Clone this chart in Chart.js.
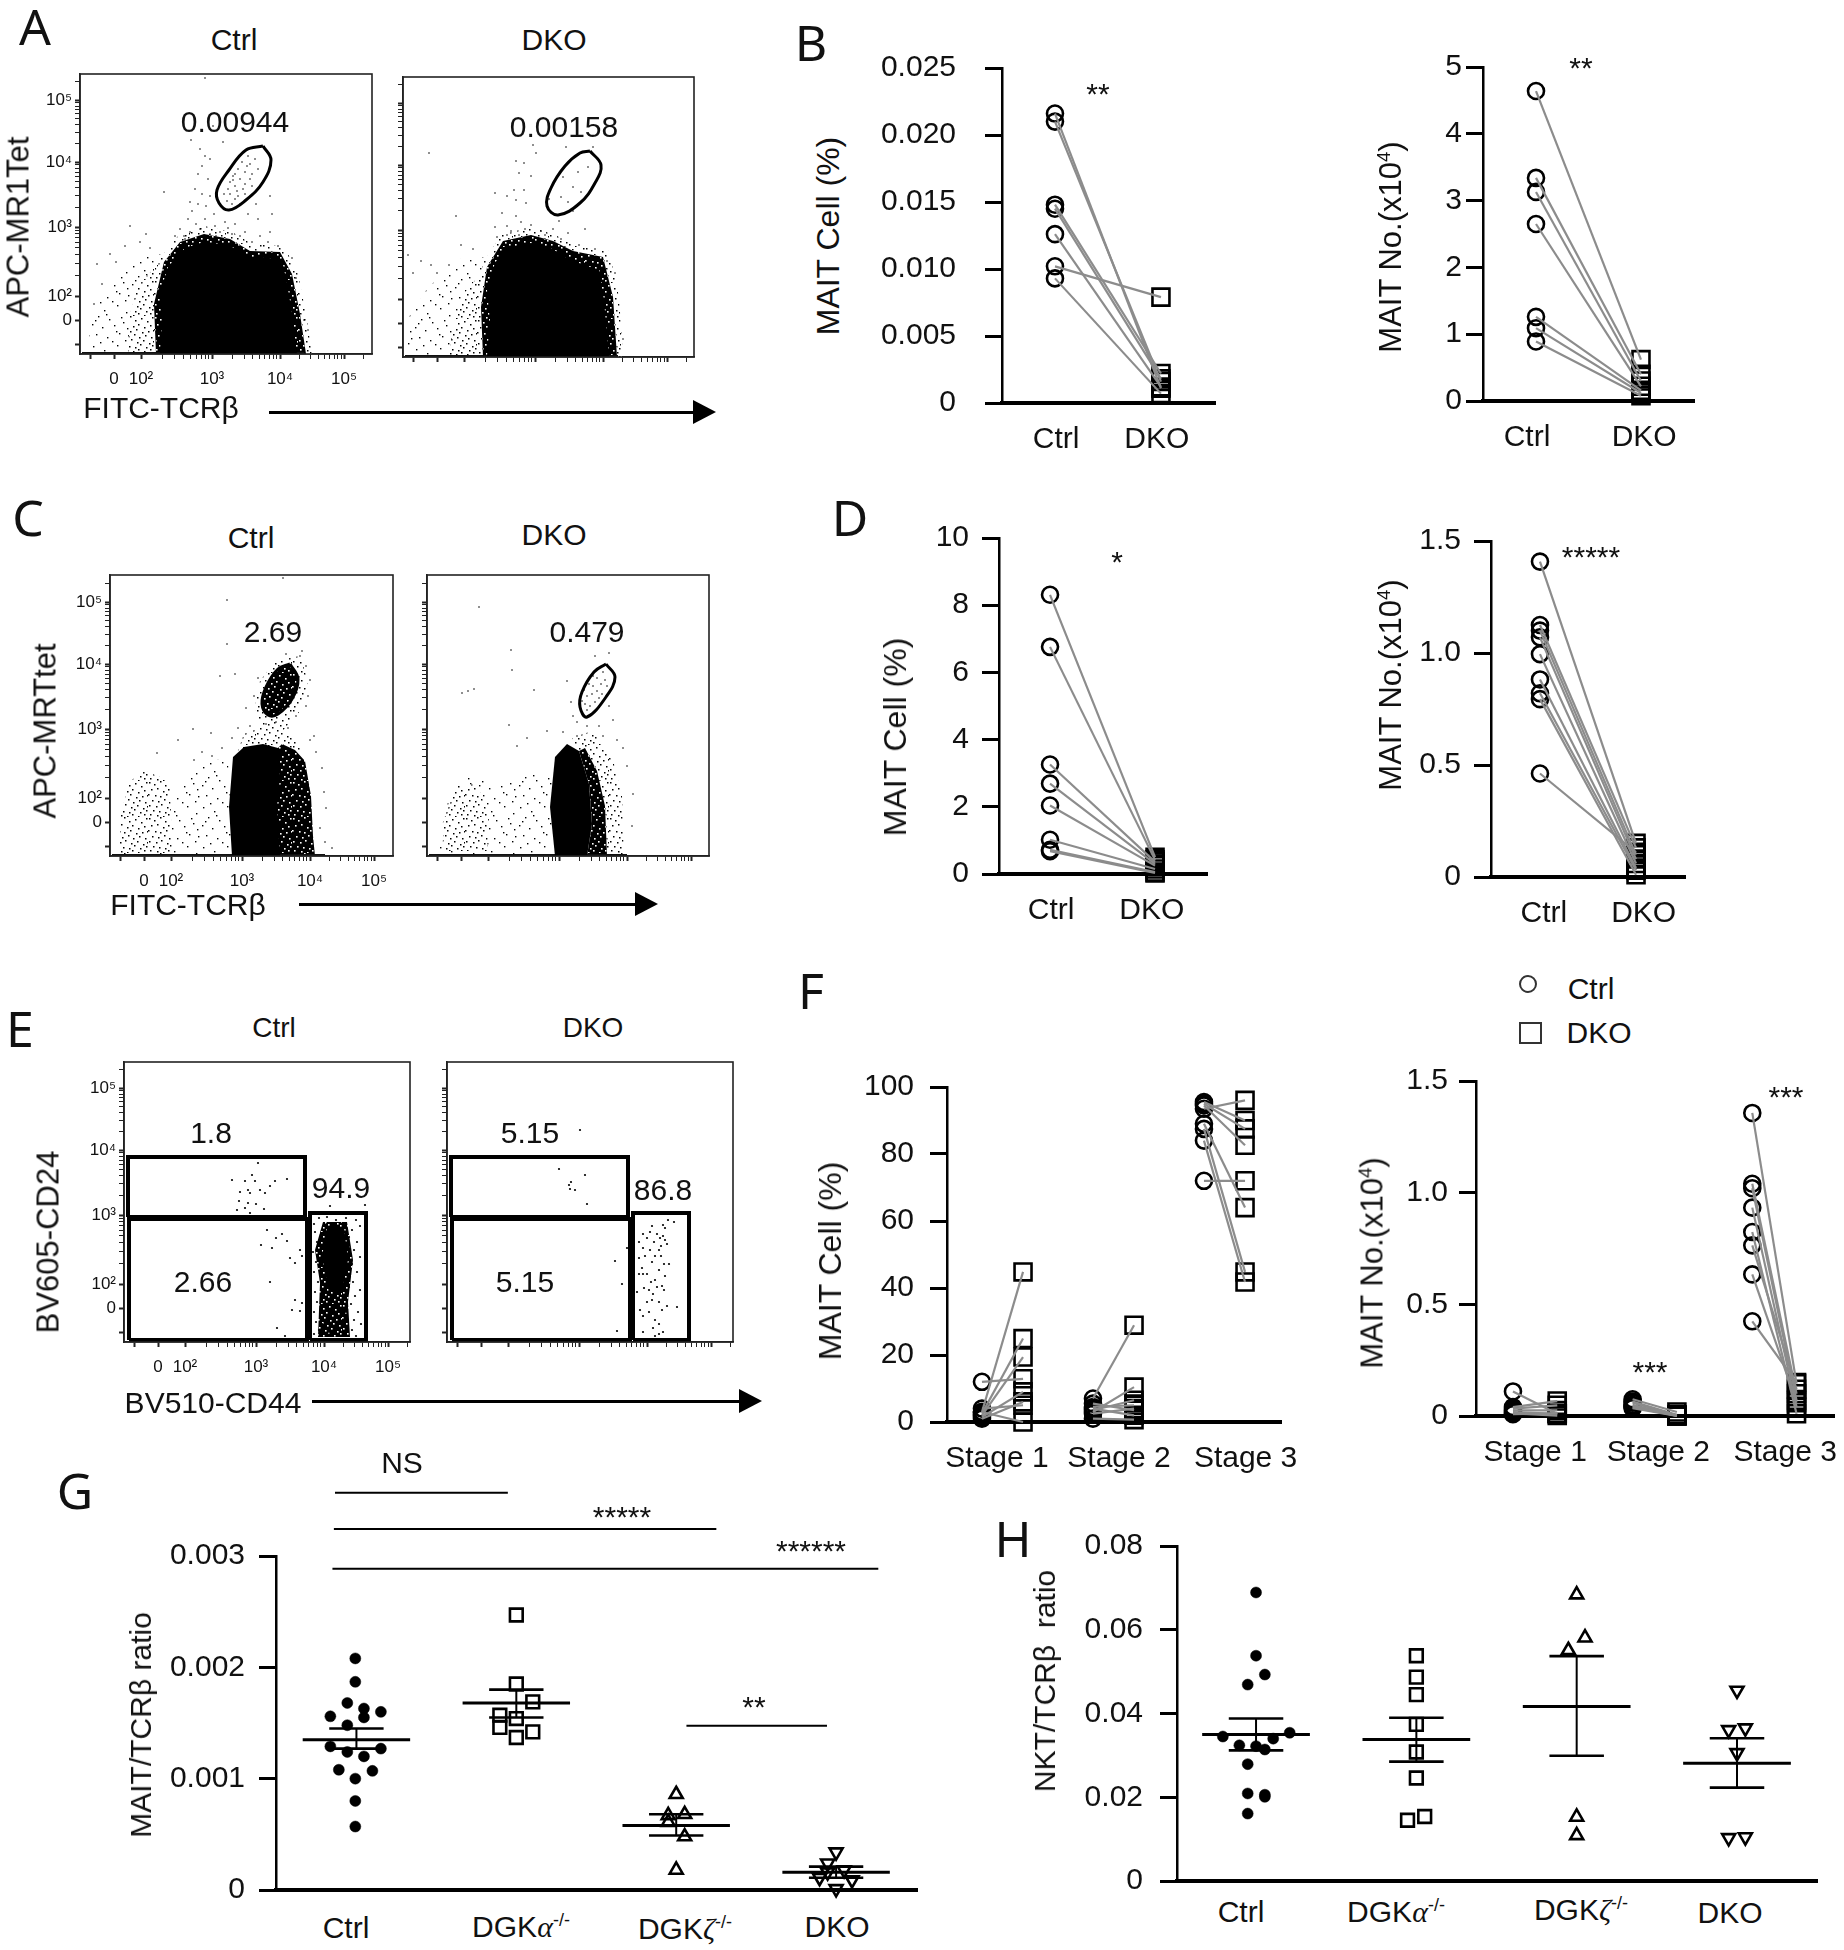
<!DOCTYPE html>
<html>
<head>
<meta charset="utf-8">
<title>MAIT cells</title>
<script src="https://cdn.jsdelivr.net/npm/chart.js@4"></script>
<style>
html, body { margin: 0; padding: 0; background: #fff; }
#page { position: relative; width: 1844px; height: 1950px; overflow: hidden; color: #111; }
canvas { position: absolute; }
.lab { position: absolute; white-space: nowrap; line-height: 1; font-family: "Liberation Sans", Arial, sans-serif; }
.lab sup { font-size: .6em; line-height: 0; vertical-align: baseline; position: relative; top: -.6em; }
.shaft { position: absolute; background: #000; height: 3px; }
.head { position: absolute; width: 0; height: 0; border-top: 12px solid transparent; border-bottom: 12px solid transparent; border-left: 23px solid #000; }
.glyph { position: absolute; border: 2px solid #333; box-sizing: border-box; }
</style>
</head>
<body>
<div id="page"></div>
<script>
/*jshint esversion: 6 */
// paired plots, values
var pairTickX = [1, 2];
var bPctCtrl = [0.0216, 0.0210, 0.0148, 0.0145, 0.0126, 0.0102, 0.0093];
var bPctDko = [0.0011, 0.0016, 0.0022, 0.0018, 0.0012, 0.0079, 0.0007];
var bPctTicks = [0, 0.005, 0.010, 0.015, 0.020, 0.025];
var bPctLabels = ['0', '0.005', '0.010', '0.015', '0.020', '0.025'];
var bNoCtrl = [4.64, 3.34, 3.13, 2.65, 1.26, 1.09, 0.89];
var bNoDko = [0.62, 0.40, 0.30, 0.22, 0.16, 0.12, 0.08];
var bNoTicks = [0, 1, 2, 3, 4, 5];
var bNoLabels = ['0', '1', '2', '3', '4', '5'];
var dPctCtrl = [8.31, 6.76, 3.26, 2.69, 2.04, 1.02, 0.72, 0.68];
var dPctDko = [0.50, 0.42, 0.36, 0.30, 0.25, 0.15, 0.06, 0.03];
var dPctTicks = [0, 2, 4, 6, 8, 10];
var dPctLabels = ['0', '2', '4', '6', '8', '10'];
var dNoCtrl = [1.408, 1.125, 1.10, 1.07, 0.995, 0.882, 0.82, 0.794, 0.462];
var dNoDko = [0.15, 0.13, 0.10, 0.08, 0.06, 0.04, 0.03, 0.01, 0.11];
var dNoTicks = [0, 0.5, 1.0, 1.5];
var dNoLabels = ['0', '0.5', '1.0', '1.5'];

// panel F, by maturation stage
var stageTickLabels = ['Stage 1', 'Stage 2', 'Stage 3'];
var fPctS1Ctrl = [3, 2.5, 2, 12, 1.5, 1, 4, 3];
var fPctS1Dko = [44.8, 24.9, 19.4, 12.9, 9, 6, 5, 0];
var fPctS2Ctrl = [7, 3, 5.5, 4.5, 4, 3.5, 2.5, 1];
var fPctS2Dko = [28.9, 10.4, 3.5, 5, 2, 6.5, 4, 0.7];
var fPctS3Ctrl = [95.5, 95, 94.5, 93.5, 89, 87.5, 84, 72];
var fPctS3Dko = [90, 87.5, 82.6, 96, 64, 44.8, 41.8, 72];
var fPctTicks = [0, 20, 40, 60, 80, 100];
var fPctLabels = ['0', '20', '40', '60', '80', '100'];
var fNoS1Ctrl = [0.11, 0.04, 0.033, 0.025, 0.018, 0.012, 0.008];
var fNoS1Dko = [0.01, 0.067, 0.048, 0.025, 0.01, 0.002, 0.012];
var fNoS2Ctrl = [0.075, 0.065, 0.06, 0.05, 0.045, 0.04, 0.035];
var fNoS2Dko = [0.018, 0.005, 0.002, 0.0, 0.004, 0.001, 0.0];
var fNoS3Ctrl = [1.357, 1.04, 1.02, 0.933, 0.824, 0.764, 0.634, 0.424];
var fNoS3Dko = [0.145, 0.1, 0.07, 0.04, 0.01, 0.12, 0.06, 0.15];
var fNoTicks = [0, 0.5, 1.0, 1.5];
var fNoLabels = ['0', '0.5', '1.0', '1.5'];

// panel G, ratio per group: x jitter and value
var gCtrlX = [0.993, 0.993, 0.943, 1.047, 1.153, 0.837, 1.047, 0.943, 0.837, 1.153, 0.943, 1.047, 0.89, 1.10, 0.993, 0.993, 0.993];
var gCtrlY = [0.00208, 0.00187, 0.00168, 0.00163, 0.00160, 0.00156, 0.00155, 0.00148, 0.00129, 0.00127, 0.00124, 0.00120, 0.00108, 0.00107, 0.00100, 0.00080, 0.00057];
var gAlphaX = [2, 2, 2.103, 1.897, 2, 1.897, 2.103, 2];
var gAlphaY = [0.00247, 0.00185, 0.00169, 0.00157, 0.00154, 0.00146, 0.00142, 0.00137];
var gZetaX = [3, 3.053, 2.95, 2.95, 3.053, 3];
var gZetaY = [0.00086, 0.00068, 0.00067, 0.00061, 0.00048, 0.00018];
var gDkoX = [4, 3.947, 4.05, 3.947, 3.897, 4.1, 4];
var gDkoY = [0.00034, 0.00024, 0.00018, 0.00016, 0.00011, 0.00009, 0.00001];
var gMean = [0.00135, 0.00168, 0.00058, 0.00016];
var gErrHi = [0.00145, 0.00180, 0.00068, 0.00021];
var gErrLo = [0.00127, 0.00155, 0.00049, 0.00011];
var gTicks = [0, 0.001, 0.002, 0.003];
var gLabels = ['0', '0.001', '0.002', '0.003'];
var gBracketX = [[0.866, 1.947], [0.859, 3.251], [0.85, 4.264], [3.064, 3.943]];
var gBracketY = [0.003567, 0.003242, 0.002886, 0.001476];

// panel H
var hCtrlX = [1, 1, 1.055, 0.948, 1.21, 0.793, 1.107, 0.896, 1, 1.055, 0.948, 0.948, 1.055, 1.055, 0.948];
var hCtrlY = [0.0689, 0.0538, 0.0493, 0.0469, 0.0354, 0.0345, 0.0340, 0.0324, 0.0322, 0.0314, 0.0279, 0.0209, 0.0206, 0.0201, 0.0161];
var hAlphaX = [2, 2, 2, 2, 2, 2, 2.052, 1.945];
var hAlphaY = [0.0538, 0.0487, 0.0445, 0.0374, 0.0308, 0.0246, 0.0154, 0.0145];
var hZetaX = [3, 3.052, 2.948, 3, 3];
var hZetaY = [0.0684, 0.0581, 0.0551, 0.0153, 0.0109];
var hDkoX = [4, 3.948, 4.052, 4, 3.948, 4.052];
var hDkoY = [0.0455, 0.0361, 0.0365, 0.0306, 0.0103, 0.0105];
var hMean = [0.0350, 0.0338, 0.0417, 0.0281];
var hErrHi = [0.0388, 0.0390, 0.0537, 0.0341];
var hErrLo = [0.0312, 0.0285, 0.0299, 0.0223];
var hTicks = [0, 0.02, 0.04, 0.06, 0.08];
var hLabels = ['0', '0.02', '0.04', '0.06', '0.08'];

// flow plots: everything in channels, x from the left of the frame, y from its bottom
var flowXMajor = [34, 61, 132, 200, 264];
var flowYMajor = [34, 58, 127, 192, 254];
var flowTickLabels = ['0', '10\u00b2', '10\u00b3', '10\u2074', '10\u2075'];

var aCtrlBlob = [[80,0],[82,34],[80,61],[88,87],[105,106],[124,112],[149,109],[168,97],[183,97],[202,94],[207,71],[212,41],[217,0]];
var aCtrlFringe = [[76,0],[74,50],[84,92],[100,112],[124,120],[150,115],[170,103],[200,102],[212,80],[220,40],[226,0]];
var aCtrlHalo = [[72,0],[68,50],[80,96],[98,118],[124,128],[152,122],[172,110],[204,108],[218,80],[226,40],[232,0]];
var aCtrlNear = [[48,0],[50,40],[58,68],[76,88],[82,0]];
var aCtrlCloud = [[8,0],[10,35],[22,60],[38,80],[50,90],[62,100],[82,100],[82,0]];
var aCtrlGate = [[183,208],[191,194],[183,172],[166,154],[149,144],[139,151],[137,164],[149,184],[166,204],[183,208]];
var aCtrlDots = [[150,160],[155,168],[160,175],[165,182],[170,190],[172,180],[165,170],[158,158],[152,150],[147,153],[144,160],[150,172],[155,180],[162,192],[168,198],[175,195],[178,185],[172,168],[165,160],[160,150],[155,155],[148,165],[158,185],[163,165],[170,175],[157,163],[153,174],[167,188],
  [120,205],[125,198],[130,195],[122,188],[118,180],[128,175],[115,165],[122,160],[130,158],[110,152],[118,150],[126,148],[134,140],[108,135],[116,130],[125,135],[135,128],[145,132],[155,130],[168,140],[178,135],[190,158],[192,140],[176,150],[100,125],[110,122],[120,125],[130,120],[140,122],[152,120],[165,122],[180,118],[190,122],[105,115],[95,118],[143,212],[111,214],[133,228],[153,178],[112,143],[104,118],[136,118],[148,126],[160,118],[172,112],[188,112],[198,108],[212,96],[216,76],[224,34],[228,24],
  [125,276],[84,162],[50,128],[66,120],[17,90],[30,100],[22,70],[14,50],[36,92],[45,108],[60,112],[70,106]];

var aDkoBlob = [[84,0],[87,37],[84,67],[92,94],[104,109],[128,114],[148,109],[167,97],[196,87],[201,57],[206,0]];
var aDkoFringe = [[80,0],[78,50],[84,90],[100,116],[128,122],[150,116],[170,106],[200,100],[210,60],[214,0]];
var aDkoHalo = [[76,0],[72,50],[80,94],[98,122],[128,130],[152,122],[172,112],[206,106],[216,60],[220,0]];
var aDkoNear = [[46,0],[50,30],[60,62],[78,84],[84,0]];
var aDkoCloud = [[2,0],[6,40],[24,68],[40,84],[60,100],[84,100],[84,0]];
var aDkoGate = [[187,206],[198,192],[192,174],[177,154],[155,142],[144,151],[148,169],[162,191],[177,204],[187,206]];
var aDkoDots = [[160,180],[175,185],[170,170],[158,160],[165,155],[178,165],[185,190],[133,204],[26,204],[113,196],[121,194],[116,184],[128,181],[111,167],[121,167],[92,164],[104,161],[113,157],[123,154],[99,144],[113,141],[53,141],[104,131],[118,135],[128,132],[92,130],[108,126],[122,128],[138,126],[150,128],[165,124],[182,128],[94,120],[104,122],[116,122],[128,120],[142,122],[158,118],[176,112],[192,108],[204,96],[212,84],[5,102],[18,96],[28,92],[10,84],[34,84],[46,92],[58,112],[70,108],[146,158],[156,136],[170,146],[130,212],[163,210],[190,210],[220,18]];

var cCtrlBlob = [[122,0],[119,49],[123,99],[134,109],[153,112],[168,108],[170,79],[167,49],[170,0]];
var cCtrlRight = [[168,0],[164,50],[164,104],[172,112],[185,106],[195,95],[201,60],[203,20],[205,0]];
var cCtrlStem = [[126,100],[134,122],[150,128],[175,125],[194,108],[180,95],[140,95]];
var cCtrlHalo = [[165,195],[190,200],[198,175],[190,145],[170,122],[150,125],[145,150],[150,175]];
var cCtrlLeft = [[10,0],[10,40],[20,75],[35,85],[60,75],[62,0]];
var cCtrlMiddle = [[62,0],[62,60],[90,90],[118,100],[122,0]];
var cCtrlGate = [[180,192],[188,177],[182,157],[168,142],[158,141],[152,152],[156,169],[168,187],[180,192]];
var cCtrlDots = [[173,278],[117,256],[117,212],[110,180],[125,182],[83,127],[68,116],[101,123],[47,103],[190,200],[196,190],[200,176],[198,160],[186,140],[196,150],[176,202],[192,205],[148,178],[144,160],[136,148],[140,130],[128,128],[122,118],[112,108],[102,100],[92,104],[84,96],[200,116],[206,104],[212,88],[214,64],[216,48],[210,28],[215,14],[222,8],[204,120],[156,132],[166,134],[178,128]];

var cDkoBlob = [[128,0],[123,49],[128,99],[140,112],[152,105],[162,72],[165,32],[160,0]];
var cDkoNear = [[160,0],[165,32],[162,72],[152,105],[158,108],[170,85],[178,50],[180,0]];
var cDkoRight = [[160,0],[165,32],[162,72],[152,105],[145,118],[165,125],[185,100],[195,60],[197,0]];
var cDkoLobe = [[15,5],[18,40],[30,70],[50,72],[62,40],[60,5]];
var cDkoLeft = [[10,0],[15,30],[25,70],[45,80],[70,70],[100,80],[125,90],[125,0]];
var cDkoGate = [[179,192],[188,179],[179,159],[160,139],[153,149],[155,164],[167,184],[179,192]];
var cDkoDots = [[170,178],[174,172],[166,170],[178,176],[160,160],[165,162],[170,165],[175,162],[158,152],[163,150],[168,154],[172,158],[166,180],[162,172],[157,166],[176,184],[180,170],[155,155],[160,146],[164,142],[52,249],[84,206],[85,186],[47,167],[41,165],[35,163],[107,166],[144,154],[120,125],[82,131],[90,110],[100,118],[168,200],[182,203],[140,175],[146,140],[182,150],[186,136],[150,134],[160,130],[172,130],[136,124],[150,120],[176,120],[196,108],[190,116],[200,90],[206,62],[205,30]];

var eCtrlCore = [[203,115],[220,115],[224,82],[218,50],[205,50],[198,85]];
var eCtrlBody = [[199,120],[223,120],[229,82],[224,40],[226,5],[194,5],[196,59],[191,92]];
var eGateTop = [[4,125],[181,125],[181,185],[4,185],[4,125]];
var eGateLow = [[5,2],[183,2],[183,123],[5,123],[5,2]];
var eGateRight = [[186,2],[242,2],[242,129],[186,129],[186,2]];
var eCtrlDots = [[134,179],[128,167],[121,161],[108,162],[131,161],[151,161],[163,163],[146,156],[136,152],[124,152],[116,150],[126,149],[141,149],[115,141],[124,139],[132,138],[121,134],[140,133],[113,132],[126,129],[143,112],[152,104],[158,108],[163,101],[137,97],[148,94],[166,84],[176,92],[171,79],[178,86],[146,60],[171,42],[168,32],[178,39],[153,14],[161,6],[176,31],
  [190,118],[195,124],[203,125],[212,122],[222,124],[232,122],[236,116],[228,112],[233,100],[230,92],[236,85],[228,78],[233,70],[229,60],[236,52],[231,46],[227,38],[234,30],[230,22],[237,18],[228,12],[232,6],[191,110],[193,100],[189,90],[192,80],[190,70],[194,60],[191,50],[193,40],[190,30],[192,20],[195,12],[190,8],[225,105],[226,95],[224,68],[225,55],[222,30],[220,18],[200,30],[198,18],[205,10],[212,8],[218,10],[197,42],[199,72],[197,105],[203,118],[206,136],[241,137],[226,129]];

var eDkoDots = [[133,212],[112,173],[138,167],[124,160],[122,157],[123,153],[128,152],[140,138],[168,81],[175,58],[170,11],[180,94],
  [221,122],[227,120],[216,117],[218,114],[205,116],[203,110],[210,108],[196,108],[216,106],[200,104],[213,104],[218,102],[192,100],[207,100],[214,96],[220,98],[196,94],[203,92],[212,92],[198,86],[208,86],[214,86],[192,84],[205,80],[217,78],[195,74],[212,72],[222,78],[218,66],[192,68],[196,68],[200,68],[208,62],[204,60],[210,55],[215,56],[197,54],[202,52],[206,48],[217,52],[190,50],[200,40],[205,42],[212,40],[220,36],[230,35],[193,32],[202,30],[215,32],[196,26],[208,22],[212,18],[206,14],[196,10],[212,8],[216,10],[208,6]];

var FONT = '"Liberation Sans", Arial, sans-serif';
var page = document.getElementById('page');

function pts(pairs) {
    return pairs.map(function(p) { return {x: p[0], y: p[1]}; });
}

function zip(xs, ys) {
    return xs.map(function(x, i) { return {x: x, y: ys[i]}; });
}

// text overlay, x/y is the centre of the text
function label(html, x, y, size, rot, family) {
    var d = document.createElement('div');
    d.className = 'lab';
    d.innerHTML = html;
    d.style.left = x + 'px';
    d.style.top = y + 'px';
    d.style.fontSize = (size || 30) + 'px';
    if (family) d.style.fontFamily = family;
    d.style.transform = 'translate(-50%,-50%)' + (rot ? ' rotate(' + rot + 'deg)' : '');
    page.appendChild(d);
}

function stars(text, x, y) {
    label(text, x, y + 4, 30);
}

function arrow(x0, x1, y) {
    var s = document.createElement('div');
    s.className = 'shaft';
    s.style.left = x0 + 'px';
    s.style.top = (y - 1.5) + 'px';
    s.style.width = (x1 - x0 - 20) + 'px';
    page.appendChild(s);
    var h = document.createElement('div');
    h.className = 'head';
    h.style.left = (x1 - 23) + 'px';
    h.style.top = (y - 12) + 'px';
    page.appendChild(h);
}

// fill textures for the parts of a flow plot too dense to read dot by dot
function stipple(size, specks, back, fore, dot) {
    var c = document.createElement('canvas');
    c.width = size;
    c.height = size;
    var g = c.getContext('2d');
    g.fillStyle = back;
    g.fillRect(0, 0, size, size);
    g.fillStyle = fore;
    specks.forEach(function(d) { g.fillRect(d[0], d[1], dot, dot); });
    return g.createPattern(c, 'repeat');
}

var fewSpecks = [[3,2],[14,6],[27,1],[36,8],[8,12],[19,15],[31,13],[2,20],[12,23],[24,21],[37,24],[6,30],[17,33],[29,29],[35,36],[10,38],[22,37],[33,18],[16,10],[26,27],[5,16],[38,31]];
var manySpecks = [[1,1],[6,3],[12,0],[17,4],[23,2],[29,5],[34,1],[3,8],[9,7],[15,10],[20,8],[26,11],[32,9],[0,13],[7,14],[12,15],[18,13],[24,16],[30,15],[35,14],[4,19],[10,20],[16,18],[21,21],[27,19],[33,21],[1,24],[8,25],[13,23],[19,26],[25,24],[31,27],[5,29],[11,30],[17,31],[22,28],[28,31],[34,29],[2,33],[9,34],[15,35],[20,33],[26,35],[32,33],[35,25]];
var sparseTex = stipple(40, fewSpecks, '#fff', '#000', 1.4);
var midTex = stipple(36, manySpecks, '#fff', '#000', 1.5);
var denseTex = stipple(36, manySpecks, '#000', '#fff', 1.6);

var framePlugin = {
    id: 'frame',
    afterDatasetsDraw: function(chart) {
        var a = chart.chartArea, g = chart.ctx;
        g.save();
        g.strokeStyle = '#222';
        g.lineWidth = 1.6;
        g.strokeRect(a.left, a.top, a.right - a.left, a.bottom - a.top);
        g.restore();
    }
};

// rect = [x0, y0, x1, y1] of the plot area on the page, m = margins round it
function newChart(rect, m, scales, datasets, plugins) {
    var c = document.createElement('canvas');
    c.width = rect[2] - rect[0] + m[0] + m[2];
    c.height = rect[3] - rect[1] + m[1] + m[3];
    c.style.left = (rect[0] - m[0]) + 'px';
    c.style.top = (rect[1] - m[1]) + 'px';
    page.appendChild(c);
    function noPadding(s) {
        s.paddingTop = s.paddingBottom = s.paddingLeft = s.paddingRight = 0;
    }
    scales.x.afterFit = function(s) { s.height = m[3]; noPadding(s); };
    scales.y.afterFit = function(s) { s.width = m[0]; noPadding(s); };
    return new Chart(c, {
        type: 'scatter',
        data: {datasets: datasets},
        options: {
            responsive: false,
            animation: false,
            events: [],
            devicePixelRatio: 1,
            layout: {autoPadding: false, padding: {top: m[1], right: m[2], left: 0, bottom: 0}},
            plugins: {legend: {display: false}, tooltip: {enabled: false}},
            scales: scales
        },
        plugins: plugins || []
    });
}

function fixedTicks(values, labels) {
    return function(scale) {
        scale.ticks = values.map(function(v, i) { return {value: v, text: labels[i]}; });
    };
}

function tickText(v, i, ts) {
    return ts[i].text;
}

function valueAxis(min, max, values, labels, pad) {
    return {
        type: 'linear', min: min, max: max,
        afterBuildTicks: fixedTicks(values, labels),
        border: {color: '#000', width: 2.5},
        grid: {drawOnChartArea: false, tickLength: 17, tickWidth: 3, tickColor: '#000'},
        ticks: {callback: tickText, autoSkip: false, maxRotation: 0, padding: pad, color: '#111', font: {family: FONT, size: 30}}
    };
}

function catAxis(min, max, values, labels, pad) {
    return {
        type: 'linear', min: min, max: max,
        afterBuildTicks: fixedTicks(values, labels),
        border: {color: '#000', width: 4},
        grid: {display: false, drawTicks: false},
        ticks: {callback: tickText, autoSkip: false, maxRotation: 0, padding: pad, color: '#111', font: {family: FONT, size: 30}}
    };
}

function pairLines(ctrl, dko, xc, xd) {
    return ctrl.map(function(v, i) {
        return {data: [{x: xc, y: v}, {x: xd, y: dko[i]}], showLine: true, borderColor: '#8c8c8c', borderWidth: 2.2, pointRadius: 0, clip: false};
    });
}

function markers(xs, ys, style, r, extra) {
    var d = {
        data: zip(xs, ys), pointStyle: style, pointRadius: r, pointBorderWidth: 2.6,
        pointBorderColor: '#000', pointBackgroundColor: 'rgba(0,0,0,0)', clip: false
    };
    return Object.assign(d, extra || {});
}

function sameX(vals, x) {
    return vals.map(function() { return x; });
}

function pairChart(rect, xMin, xMax, ctrl, dko, yTicks, yLabels, pad, tickX) {
    var sets = pairLines(ctrl, dko, pairTickX[0], pairTickX[1]);
    sets.push(markers(sameX(ctrl, pairTickX[0]), ctrl, 'circle', 8));
    sets.push(markers(sameX(dko, pairTickX[1]), dko, 'rect', 12));
    newChart(rect, [120, 20, 10, 60], {
        x: catAxis(xMin, xMax, tickX, ['Ctrl', 'DKO'], 19),
        y: valueAxis(0, yTicks[yTicks.length - 1], yTicks, yLabels, pad)
    }, sets);
}

function stageChart(rect, xMin, xMax, stages, yTicks, yLabels, pad, tickX, right) {
    var sets = [];
    stages.forEach(function(st, i) {
        sets = sets.concat(pairLines(st[0], st[1], i + 0.815, i + 1.185));
    });
    stages.forEach(function(st, i) {
        sets.push(markers(sameX(st[0], i + 0.815), st[0], 'circle', 8));
        sets.push(markers(sameX(st[1], i + 1.185), st[1], 'rect', 12));
    });
    newChart(rect, [120, 20, right, 60], {
        x: catAxis(xMin, xMax, tickX, stageTickLabels, 19),
        y: valueAxis(0, yTicks[yTicks.length - 1], yTicks, yLabels, pad)
    }, sets);
}

function hLine(x0, x1, y, w) {
    return {data: [{x: x0, y: y}, {x: x1, y: y}], showLine: true, borderColor: '#000', borderWidth: w, pointRadius: 0, clip: false};
}

function scatterChart(rect, xMin, xMax, groups, mean, hi, lo, yTicks, yLabels, pad, extra) {
    var sets = [];
    mean.forEach(function(m, i) {
        var c = i + 1;
        sets.push(hLine(c - 0.336, c + 0.336, m, 3));
        sets.push(hLine(c - 0.17, c + 0.17, hi[i], 2.6));
        sets.push(hLine(c - 0.17, c + 0.17, lo[i], 2.6));
        sets.push({data: [{x: c, y: lo[i]}, {x: c, y: hi[i]}], showLine: true, borderColor: '#000', borderWidth: 2, pointRadius: 0, clip: false});
    });
    sets = sets.concat(extra || []);
    sets.push(markers(groups[0][0], groups[0][1], 'circle', 5.5, {pointBackgroundColor: '#000', pointBorderWidth: 0.5}));
    sets.push(markers(groups[1][0], groups[1][1], 'rect', 9));
    sets.push(markers(groups[2][0], groups[2][1], 'triangle', 7.5));
    sets.push(markers(groups[3][0], groups[3][1], 'triangle', 7.5, {pointRotation: 180}));
    newChart(rect, [120, 100, 10, 10], {
        x: {type: 'linear', min: xMin, max: xMax, border: {color: '#000', width: 4}, grid: {display: false}, ticks: {display: false}},
        y: valueAxis(0, yTicks[yTicks.length - 1], yTicks, yLabels, pad)
    }, sets);
}

// ticks of a logicle style axis: majors with a label, log minors between them
function flowTicks(major, labels) {
    var out = [{value: 10, text: '', major: true}];
    major.forEach(function(p, i) {
        out.push({value: p, text: labels ? labels[i] : '', major: true});
        if (i > 0 && i < major.length) {
            var next = i < major.length - 1 ? major[i + 1] : p + (p - major[i - 1]);
            for (var m = 2; m < 10; m++) {
                out.push({value: p + Math.log10(m) * (next - p), text: '', major: false});
            }
        }
    });
    return out;
}

function flowAxis(max, major, labels, size) {
    return {
        type: 'linear', min: 0, max: max,
        afterBuildTicks: function(s) {
            s.ticks = flowTicks(major, labels).filter(function(t) { return t.value < max; });
        },
        border: {color: '#222', width: 1.6},
        grid: {
            drawOnChartArea: false, tickLength: 5, tickColor: '#222',
            tickWidth: function(c) { return c.tick && c.tick.major ? 2 : 1; }
        },
        ticks: {
            callback: tickText, autoSkip: false, maxRotation: 0, padding: size, color: '#111',
            font: {family: '"Liberation Sans Narrow", "Liberation Sans", sans-serif', size: 17}
        }
    };
}

function region(poly, fill, smooth) {
    return {data: pts(poly), showLine: true, fill: 'shape', backgroundColor: fill, borderWidth: 0, pointRadius: 0, tension: smooth ? 0.4 : 0};
}

function gate(poly, w, smooth) {
    return {data: pts(poly), showLine: true, borderColor: '#000', borderWidth: w, tension: smooth ? 0.4 : 0, pointRadius: 0, clip: false};
}

function dots(list, r) {
    return {data: pts(list), pointStyle: 'circle', pointRadius: r || 0.8, pointBorderWidth: 0, pointBackgroundColor: '#000'};
}

function pile(x1) {
    return {data: [{x: 2, y: 1}, {x: x1, y: 1}], showLine: true, borderColor: '#111', borderWidth: 2, pointRadius: 0};
}

function flowChart(rect, withLabels, sets) {
    var w = rect[2] - rect[0], h = rect[3] - rect[1];
    newChart(rect, [70, 10, 10, 50], {
        x: flowAxis(w, flowXMajor, withLabels ? flowTickLabels : null, 10),
        y: flowAxis(h, flowYMajor, withLabels ? flowTickLabels : null, 3)
    }, sets, [framePlugin]);
}

// panel A
flowChart([80, 74, 372, 354], true, [gate(aCtrlGate, 3, true), dots(aCtrlDots), region(aCtrlBlob, '#000'), pile(224), region(aCtrlFringe, denseTex), region(aCtrlHalo, midTex), region(aCtrlNear, midTex), region(aCtrlCloud, sparseTex)]);
flowChart([403, 77, 694, 357], false, [gate(aDkoGate, 3, true), dots(aDkoDots), region(aDkoBlob, '#000'), pile(215), region(aDkoFringe, denseTex), region(aDkoHalo, midTex), region(aDkoNear, midTex), region(aDkoCloud, sparseTex)]);

// panel C
flowChart([110, 575, 393, 856], true, [gate(cCtrlGate, 3, true), region(cCtrlGate, denseTex, true), dots(cCtrlDots), region(cCtrlBlob, '#000'), pile(215), region(cCtrlRight, denseTex), region(cCtrlStem, midTex), region(cCtrlHalo, midTex), region(cCtrlLeft, midTex), region(cCtrlMiddle, sparseTex)]);
flowChart([427, 575, 709, 856], false, [gate(cDkoGate, 3, true), dots(cDkoDots), region(cDkoBlob, '#000'), pile(200), region(cDkoNear, denseTex), region(cDkoRight, midTex), region(cDkoLobe, midTex), region(cDkoLeft, sparseTex)]);

// panel E
flowChart([124, 1062, 410, 1342], true, [gate(eGateLow, 4), gate(eGateTop, 4), gate(eGateRight, 4), dots(eCtrlDots, 1.1), region(eCtrlCore, '#000'), region(eCtrlBody, denseTex)]);
flowChart([447, 1062, 733, 1342], false, [gate(eGateLow, 4), gate(eGateTop, 4), gate(eGateRight, 4), dots(eDkoDots, 1.1)]);

// panels B and D
pairChart([1002, 68, 1215, 403], 0.5, 2.51, bPctCtrl, bPctDko, bPctTicks, bPctLabels, 29, [1.01, 1.96]);
pairChart([1483, 67, 1694, 401], 0.495, 2.505, bNoCtrl, bNoDko, bNoTicks, bNoLabels, 4, [0.914, 2.03]);
pairChart([999, 538, 1207, 874], 0.514, 2.495, dPctCtrl, dPctDko, dPctTicks, dPctLabels, 13, [1.01, 1.97]);
pairChart([1491, 541, 1685, 877], 0.49, 2.51, dNoCtrl, dNoDko, dNoTicks, dNoLabels, 13, [1.04, 2.08]);

// panel F
stageChart([947, 1087, 1281, 1422], 0.5, 3.509, [[fPctS1Ctrl, fPctS1Dko], [fPctS2Ctrl, fPctS2Dko], [fPctS3Ctrl, fPctS3Dko]], fPctTicks, fPctLabels, 16, [0.95, 2.05, 3.19], 60);
stageChart([1476, 1081, 1834, 1416], 0.506, 3.498, [[fNoS1Ctrl, fNoS1Dko], [fNoS2Ctrl, fNoS2Dko], [fNoS3Ctrl, fNoS3Dko]], fNoTicks, fNoLabels, 11, [1.0, 2.03, 3.09], 10);

// panels G and H
var gBrackets = gBracketY.map(function(y, i) { return hLine(gBracketX[i][0], gBracketX[i][1], y, 2); });
scatterChart([275.5, 1556, 916.5, 1890.7], 0.497, 4.506, [[gCtrlX, gCtrlY], [gAlphaX, gAlphaY], [gZetaX, gZetaY], [gDkoX, gDkoY]], gMean, gErrHi, gErrLo, gTicks, gLabels, 14, gBrackets);
scatterChart([1177, 1546, 1817, 1881], 0.507, 4.499, [[hCtrlX, hCtrlY], [hAlphaX, hAlphaY], [hZetaX, hZetaY], [hDkoX, hDkoY]], hMean, hErrHi, hErrLo, hTicks, hLabels, 17);

// panel letters
var LETTER = '"Noto Sans", sans-serif';
[['A', 35, 26], ['B', 811, 42], ['C', 28, 517], ['D', 850, 517], ['E', 20, 1028], ['F', 811, 990], ['G', 75, 1490], ['H', 1013, 1538]].forEach(function(l) {
    label(l[0], l[1], l[2], 50, 0, LETTER);
});

// flow annotations
label('Ctrl', 234, 40); label('DKO', 554, 40);
label('0.00944', 235, 122); label('0.00158', 564, 127);
label('APC-MR1Tet', 18, 227, 31, -90);
label('FITC-TCR\u03b2', 161, 408); arrow(269, 716, 412);
label('Ctrl', 251, 538); label('DKO', 554, 535);
label('2.69', 273, 632); label('0.479', 587, 632);
label('APC-MRTtet', 45, 731, 31, -90);
label('FITC-TCR\u03b2', 188, 905); arrow(299, 658, 904);
label('Ctrl', 274, 1028, 28); label('DKO', 593, 1028, 28);
label('1.8', 211, 1133); label('94.9', 341, 1188); label('2.66', 203, 1282);
label('5.15', 530, 1133); label('86.8', 663, 1190); label('5.15', 525, 1282);
label('BV605-CD24', 48, 1242, 31, -90);
label('BV510-CD44', 213, 1403); arrow(312, 762, 1401);

// y titles of the paired plots
label('MAIT Cell (%)', 828, 236, 32, -90);
label('MAIT No.(x10<sup>4</sup>)', 1390, 247, 31, -90);
label('MAIT Cell (%)', 895, 737, 32, -90);
label('MAIT No.(x10<sup>4</sup>)', 1390, 685, 31, -90);
label('MAIT Cell (%)', 830, 1261, 32, -90);
label('MAIT No.(x10<sup>4</sup>)', 1372, 1263, 31, -90);
label('MAIT/TCR\u03b2 ratio', 141, 1725, 30, -90);
label('NKT/TCR\u03b2&nbsp; ratio', 1045, 1681, 30, -90);

// significance
stars('**', 1098, 90); stars('**', 1581, 64);
stars('*', 1117, 558); stars('*****', 1591, 553);
stars('***', 1650, 1368); stars('***', 1786, 1093);
label('NS', 402, 1463);
stars('*****', 622, 1513); stars('******', 811, 1547); stars('**', 754, 1703);

// group labels of G and H
function geneLabel(g, x, y) {
    label('DGK<span style="font-family:\'Liberation Serif\';font-style:italic">' + g + '</span><sup>-/-</sup>', x, y);
}
label('Ctrl', 346, 1928); geneLabel('\u03b1', 521, 1927); geneLabel('\u03b6', 685, 1929); label('DKO', 837, 1927);
label('Ctrl', 1241, 1912); geneLabel('\u03b1', 1396, 1912); geneLabel('\u03b6', 1581, 1910); label('DKO', 1730, 1913);

// legend of F
var legendCircle = document.createElement('div');
legendCircle.className = 'glyph';
legendCircle.style.cssText = 'left:1519px;top:975px;width:18px;height:18px;border-radius:50%';
page.appendChild(legendCircle);
var legendSquare = document.createElement('div');
legendSquare.className = 'glyph';
legendSquare.style.cssText = 'left:1519px;top:1022px;width:23px;height:22px';
page.appendChild(legendSquare);
label('Ctrl', 1591, 989); label('DKO', 1599, 1033);
</script>
</body>
</html>
